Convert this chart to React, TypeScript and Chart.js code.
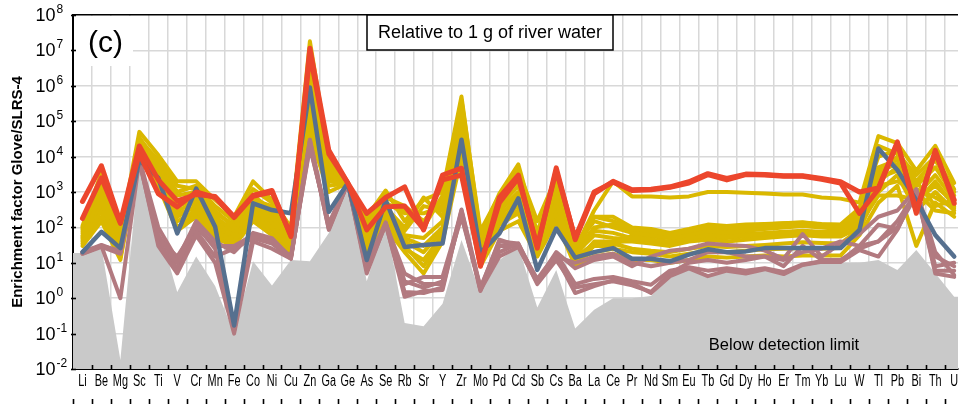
import React, { useEffect, useRef } from 'react';
import { Chart, registerables } from 'chart.js';

Chart.register(...registerables);

// ---------------- data ----------------
const categories = ['Li','Be','Mg','Sc','Ti','V','Cr','Mn','Fe','Co','Ni','Cu','Zn','Ga','Ge','As','Se','Rb','Sr','Y','Zr','Mo','Pd','Cd','Sb','Cs','Ba','La','Ce','Pr','Nd','Sm','Eu','Tb','Gd','Dy','Ho','Er','Tm','Yb','Lu','W','Tl','Pb','Bi','Th','U'];

const yTickExponents = [-2, -1, 0, 1, 2, 3, 4, 5, 6, 7, 8];

const detectionLimit = [
  19, 28, 0.018, 8000, 110, 1.5, 15, 2.2, 0.1, 11,
  2.3, 12, 11, 70, 1800, 3, 145, 0.2, 0.16, 0.7,
  44, 1.4, 12, 29, 0.55, 6.3, 0.14, 0.47, 1.0, 1.0,
  1.15, 4, 7, 4, 6, 4.8, 6.6, 4.8, 8.7, 10.7,
  9.8, 10, 12, 6.3, 23, 5.1, 1.1,
];

const red1 = [
  540, 5500, 140, 20000, 2200, 560, 850, 750, 200, 800,
  1100, 55, 11500000, 15000, 1800, 250, 700, 1400, 85, 3000,
  4700, 8, 700, 3000, 26, 4800, 45, 900, 2000, 1150,
  1200, 1400, 1950, 3300, 2400, 3200, 3100, 2900, 2900, 2400,
  1950, 1000, 1300, 26000, 250, 15000, 480,
];
const red2 = [
  180, 2500, 130, 12000, 900, 380, 1000, 700, 190, 750,
  1000, 60, 8000000, 12000, 1800, 85, 380, 400, 90, 2200,
  3000, 9, 500, 2500, 30, 4000, 50, 1000, 1900, 1100,
  1150, 1350, 1800, 3100, 2200, 3100, 3000, 2800, 2800, 2300,
  1800, 250, 1200, 24000, 300, 13000, 600,
];
const blue = [
  20, 75, 26, 8000, 2500, 68, 1250, 105, 0.17, 480,
  310, 250, 900000, 275, 1800, 12, 590, 28, 32, 35,
  30000, 19, 68, 660, 6.3, 93, 14, 20, 26, 13,
  13, 11, 17, 24, 20, 21, 26, 26, 26, 26,
  26, 85, 17000, 4200, 590, 61, 15,
];
const mauve1 = [
  18, 30, 1.0, 8000, 30, 5, 60, 10, 0.1, 40,
  25, 13, 30000, 85, 1800, 5, 130, 1.1, 1.6, 1.7,
  300, 1.7, 15, 28, 2.7, 15, 1.4, 2.2, 3.2, 2.7,
  1.4, 4.2, 7, 4.2, 6, 5, 6.6, 4.8, 8.7, 10.7,
  10.5, 23, 15, 85, 1100, 5, 4,
];
const mauve2 = [
  19, 30, 22, 8000, 60, 10, 120, 25, 0.12, 60,
  40, 15, 20000, 120, 1800, 8, 140, 2.5, 4, 4,
  250, 1.8, 45, 30, 3.5, 18, 2.5, 3.5, 4, 3,
  2.4, 6, 7.5, 6, 7, 6, 7, 5.5, 9, 11,
  11, 30, 120, 90, 1100, 8, 10,
];
const mauve3 = [
  20, 32, 20, 8500, 100, 12, 150, 40, 20, 70,
  50, 14, 30000, 100, 1800, 10, 130, 5, 2.5, 2.5,
  320, 2, 40, 35, 3, 20, 7, 12, 15, 8,
  15, 22, 25, 35, 32, 30, 22, 13, 65, 15,
  35, 65, 200, 300, 1200, 20, 4.5,
];
const mauve4 = [
  18, 28, 18, 7000, 40, 7, 80, 15, 25, 50,
  35, 13, 25000, 90, 1800, 6, 120, 1.5, 1.4, 2,
  250, 1.6, 30, 30, 2.5, 12, 2, 2.5, 3, 2.3,
  1.5, 5, 10, 12, 10, 12, 15, 8, 30, 12,
  12, 25, 40, 150, 1000, 6, 6,
];
const mauve5 = [
  20, 30, 20, 8000, 50, 15, 100, 30, 30, 60,
  40, 15, 18000, 130, 1800, 7, 130, 3, 2, 3,
  200, 2, 20, 35, 3, 15, 10, 15, 18, 10,
  8, 10, 12, 20, 20, 15, 15, 12, 20, 25,
  40, 30, 40, 100, 800, 15, 8,
];
const yellow1 = [
  110, 3500, 70, 50000, 11000, 2000, 2000, 600, 200, 2000,
  600, 100, 18000000, 10000, 1800, 200, 1100, 150, 600, 1000,
  500000, 60, 900, 6000, 70, 3500, 25, 300, 2000, 750,
  750, 700, 750, 1000, 1000, 950, 900, 850, 850, 700,
  650, 500, 38000, 24000, 4000, 20000, 1800,
];
const yellow2 = [
  60, 800, 40, 30000, 8000, 1500, 1200, 300, 100, 800,
  300, 60, 1500000, 8000, 1800, 120, 700, 400, 150, 600,
  300000, 40, 600, 3000, 50, 2000, 20, 200, 150, 90,
  80, 60, 80, 100, 100, 110, 120, 130, 140, 120,
  110, 300, 10000, 15000, 2000, 8000, 1000,
];
const yellow3 = [
  90, 2000, 30, 25000, 5000, 500, 700, 200, 80, 400,
  200, 40, 800000, 5000, 1800, 80, 400, 80, 400, 300,
  150000, 30, 400, 1500, 40, 1000, 30, 150, 100, 70,
  60, 50, 60, 80, 70, 80, 90, 100, 110, 100,
  90, 200, 5000, 8000, 800, 3000, 600,
];
const yellow4 = [
  50, 500, 20, 15000, 3000, 300, 500, 150, 60, 300,
  150, 30, 300000, 3000, 1800, 50, 300, 60, 50, 150,
  80000, 20, 200, 800, 30, 500, 15, 80, 70, 50,
  45, 40, 50, 60, 55, 60, 65, 70, 75, 70,
  70, 150, 2000, 5000, 500, 2000, 400,
];
const yellow5 = [
  40, 300, 15, 12000, 2000, 150, 300, 80, 40, 200,
  100, 20, 100000, 2000, 1800, 30, 200, 30, 8, 50,
  30000, 10, 150, 300, 20, 300, 10, 40, 40, 40,
  35, 30, 40, 45, 40, 45, 50, 55, 60, 55,
  55, 100, 1000, 3000, 300, 1000, 300,
];
const yellow6 = [
  30, 150, 12, 10000, 1500, 80, 200, 50, 30, 150,
  60, 15, 40000, 1000, 1800, 20, 100, 20, 5, 40,
  10000, 8, 80, 150, 15, 150, 8, 15, 18, 12,
  12, 10, 12, 15, 14, 15, 16, 15, 16, 16,
  16, 60, 500, 1500, 30, 500, 200,
];
const yellow7 = [
  70, 1500, 25, 20000, 4000, 800, 1000, 250, 120, 600,
  400, 50, 2000000, 6000, 1800, 100, 500, 250, 250, 400,
  200000, 50, 700, 2000, 60, 1500, 20, 100, 120, 80,
  70, 55, 70, 90, 85, 90, 100, 110, 120, 110,
  100, 250, 3000, 10000, 1500, 5000, 800,
];
const yellow8 = [
  45, 400, 18, 14000, 2500, 200, 400, 100, 50, 250,
  120, 25, 150000, 2500, 1800, 40, 250, 40, 20, 80,
  50000, 15, 250, 500, 25, 400, 12, 20, 25, 20,
  18, 15, 18, 22, 20, 22, 24, 25, 26, 25,
  26, 80, 1500, 2000, 1000, 300, 250,
];
const yellow9 = [
  35, 200, 14, 11000, 1800, 100, 250, 60, 35, 180,
  80, 18, 60000, 1500, 1800, 25, 150, 25, 12, 60,
  20000, 12, 120, 250, 18, 200, 9, 30, 30, 60,
  55, 50, 55, 70, 60, 65, 70, 75, 80, 75,
  75, 120, 800, 800, 600, 1500, 500,
];
const yellow10 = [
  100, 1200, 50, 35000, 6000, 1000, 1500, 400, 150, 1200,
  500, 70, 4000000, 7000, 1800, 150, 800, 300, 100, 800,
  400000, 80, 800, 4000, 150, 2500, 30, 200, 200, 100,
  90, 70, 90, 120, 110, 120, 125, 130, 135, 125,
  120, 350, 20000, 12000, 3000, 10000, 1200,
];
const yellow11 = [
  80, 1000, 35, 18000, 3500, 400, 600, 180, 70, 500,
  250, 35, 500000, 4000, 1800, 60, 350, 100, 700, 200,
  100000, 25, 300, 1000, 35, 700, 18, 60, 50, 45,
  40, 35, 45, 50, 50, 55, 60, 60, 65, 60,
  60, 200, 4000, 6000, 1200, 700, 350,
];
const yellow12 = [
  55, 600, 22, 16000, 2200, 250, 350, 120, 45, 350,
  180, 28, 200000, 3500, 1800, 45, 180, 50, 30, 100,
  60000, 18, 180, 400, 22, 350, 14, 35, 35, 25,
  22, 20, 25, 30, 28, 30, 32, 35, 38, 36,
  35, 90, 2500, 4000, 2000, 400, 600,
];

const redSeries = [red1, red2];
const blueSeries = [blue];
const mauveSeries = [mauve1, mauve2, mauve3, mauve4, mauve5];
const yellowSeries = [yellow1, yellow2, yellow3, yellow4, yellow5, yellow6, yellow7, yellow8, yellow9, yellow10, yellow11, yellow12];

// ---------------- style ----------------
const RED = '#ec462c';
const BLUE = '#56708f';
const MAUVE = '#b27a80';
const YELLOW = '#dab800';
const GRAY = '#c9c9c9';
const GRID = '#d8d8d8';
const X_MIN = -0.5;
const X_MAX = 46.2;
const FONT = "'Liberation Sans', Arial, Helvetica, sans-serif";

const toPoints = (vals: number[]) => vals.map((v, i) => ({ x: i, y: v }));

const lineDs = (vals: number[], color: string, width: number) => ({
  data: toPoints(vals),
  borderColor: color,
  backgroundColor: color,
  borderWidth: width,
  pointRadius: 0,
  pointHoverRadius: 0,
  fill: false,
  tension: 0,
  borderJoinStyle: 'round' as const,
  borderCapStyle: 'round' as const,
});

const overlayPlugin = {
  id: 'overlay',
  beforeDatasetsDraw(chart: any) {
    const { ctx, chartArea } = chart;
    ctx.save();
    // white patch behind panel label
    ctx.fillStyle = '#ffffff';
    ctx.fillRect(chartArea.left + 1, chartArea.top + 1, 59, 50);
    ctx.restore();
  },
  afterDatasetsDraw(chart: any) {
    const { ctx, chartArea } = chart;
    ctx.save();
    // panel label
    ctx.fillStyle = '#000';
    ctx.font = `30px ${FONT}`;
    ctx.textAlign = 'left';
    ctx.textBaseline = 'alphabetic';
    ctx.fillText('(c)', chartArea.left + 15, chartArea.top + 37);

    // boxed caption
    const bx = chartArea.left + 294;
    const by = chartArea.top;
    const bw = 246;
    const bh = 35;
    ctx.fillStyle = '#fff';
    ctx.fillRect(bx, by, bw, bh);
    ctx.strokeStyle = '#000';
    ctx.lineWidth = 1.5;
    ctx.strokeRect(bx, by, bw, bh);
    ctx.fillStyle = '#000';
    ctx.font = `18px ${FONT}`;
    ctx.textAlign = 'center';
    ctx.textBaseline = 'middle';
    ctx.fillText('Relative to 1 g of river water', bx + bw / 2, by + bh / 2 + 1);

    // below detection limit
    ctx.font = `16.5px ${FONT}`;
    ctx.textAlign = 'center';
    ctx.textBaseline = 'alphabetic';
    ctx.fillText('Below detection limit', 784, chartArea.bottom - 19);
    ctx.restore();
  },
  afterDraw(chart: any) {
    const { ctx, chartArea, scales } = chart;
    const xs = scales.x;
    const ys = scales.y;
    ctx.save();
    ctx.strokeStyle = '#000';
    ctx.lineWidth = 1.6;
    // inner ticks on x axis and decorative dash row
    categories.forEach((_, i) => {
      const px = Math.round(xs.getPixelForValue(i - 0.5)) + 0.5;
      if (i > 0) {
        ctx.beginPath();
        ctx.moveTo(px, chartArea.bottom - 4);
        ctx.lineTo(px, chartArea.bottom);
        ctx.stroke();
      }
      ctx.beginPath();
      ctx.moveTo(px, chartArea.bottom + 30);
      ctx.lineTo(px, chartArea.bottom + 35);
      ctx.stroke();
    });
    // condensed category labels
    ctx.fillStyle = '#000';
    ctx.font = `16px ${FONT}`;
    ctx.textAlign = 'center';
    ctx.textBaseline = 'top';
    categories.forEach((label, i) => {
      const px = xs.getPixelForValue(i);
      ctx.save();
      ctx.translate(px, chartArea.bottom + 5);
      ctx.scale(0.68, 1);
      ctx.fillText(label, 0, 0);
      ctx.restore();
    });
    // y axis ticks and labels
    yTickExponents.forEach((e) => {
      const py = ys.getPixelForValue(Math.pow(10, e));
      ctx.beginPath();
      ctx.moveTo(chartArea.left - 2, Math.round(py) + 0.5);
      ctx.lineTo(chartArea.left + 3, Math.round(py) + 0.5);
      ctx.stroke();
      ctx.fillStyle = '#000';
      ctx.font = `18px ${FONT}`;
      ctx.textAlign = 'right';
      ctx.textBaseline = 'middle';
      ctx.fillText('10', 55.5, py + 1);
      ctx.font = `12px ${FONT}`;
      ctx.textAlign = 'left';
      ctx.textBaseline = 'alphabetic';
      ctx.fillText(String(e), 56.5, py - 2);
    });
    ctx.restore();
  },
};

export default function App() {
  const canvasRef = useRef<HTMLCanvasElement | null>(null);

  useEffect(() => {
    const canvas = canvasRef.current;
    if (!canvas) return;

    const datasets: any[] = [];
    redSeries.forEach((s) => datasets.push(lineDs(s, RED, 5)));
    blueSeries.forEach((s) => datasets.push(lineDs(s, BLUE, 4.5)));
    mauveSeries.forEach((s) => datasets.push(lineDs(s, MAUVE, 4)));
    yellowSeries.forEach((s) => datasets.push(lineDs(s, YELLOW, 4)));
    datasets.push({
      data: [
        { x: X_MIN, y: detectionLimit[0] },
        ...toPoints(detectionLimit),
        { x: X_MAX, y: detectionLimit[detectionLimit.length - 1] },
      ],
      borderWidth: 0,
      borderColor: GRAY,
      backgroundColor: GRAY,
      pointRadius: 0,
      fill: 'start',
      tension: 0,
    });

    const chart = new Chart(canvas, {
      type: 'line',
      data: { datasets },
      options: {
        animation: false,
        responsive: false,
        maintainAspectRatio: false,
        devicePixelRatio: 1,
        layout: { padding: { top: 15, right: 1, left: 0, bottom: 0 } },
        plugins: {
          legend: { display: false },
          tooltip: { enabled: false },
          title: { display: false },
        },
        events: [],
        scales: {
          x: {
            type: 'linear',
            min: X_MIN,
            max: X_MAX,
            afterBuildTicks: (scale: any) => {
              scale.ticks = categories.map((_, i) => ({ value: i - 0.5 }));
            },
            afterFit: (scale: any) => {
              scale.height = 38;
            },
            ticks: { display: false },
            grid: {
              color: GRID,
              lineWidth: 1.5,
              drawTicks: false,
            },
            border: { display: true, color: '#000', width: 2 },
          },
          y: {
            type: 'logarithmic',
            min: 0.01,
            max: 1e8,
            afterBuildTicks: (scale: any) => {
              scale.ticks = yTickExponents.map((e) => ({ value: Math.pow(10, e), major: true }));
            },
            afterFit: (scale: any) => {
              scale.width = 73;
            },
            ticks: { display: false },
            grid: {
              color: (c: any) => (c.tick && c.tick.value >= 1e8 ? '#000' : GRID),
              lineWidth: 1.5,
              drawTicks: false,
            },
            border: { display: true, color: '#000', width: 2 },
            title: {
              display: true,
              text: 'Enrichment factor Glove/SLRS-4',
              color: '#000',
              font: { family: FONT, size: 15, weight: 'bold' },
              padding: { top: 9, bottom: 0 },
            },
          },
        },
      },
      plugins: [overlayPlugin],
    });

    return () => {
      chart.destroy();
    };
  }, []);

  return (
    <div style={{ position: 'fixed', left: 0, top: 0, width: 959, height: 407, background: '#fff' }}>
      <canvas ref={canvasRef} width={959} height={407} style={{ width: 959, height: 407, display: 'block' }} />
    </div>
  );
}
